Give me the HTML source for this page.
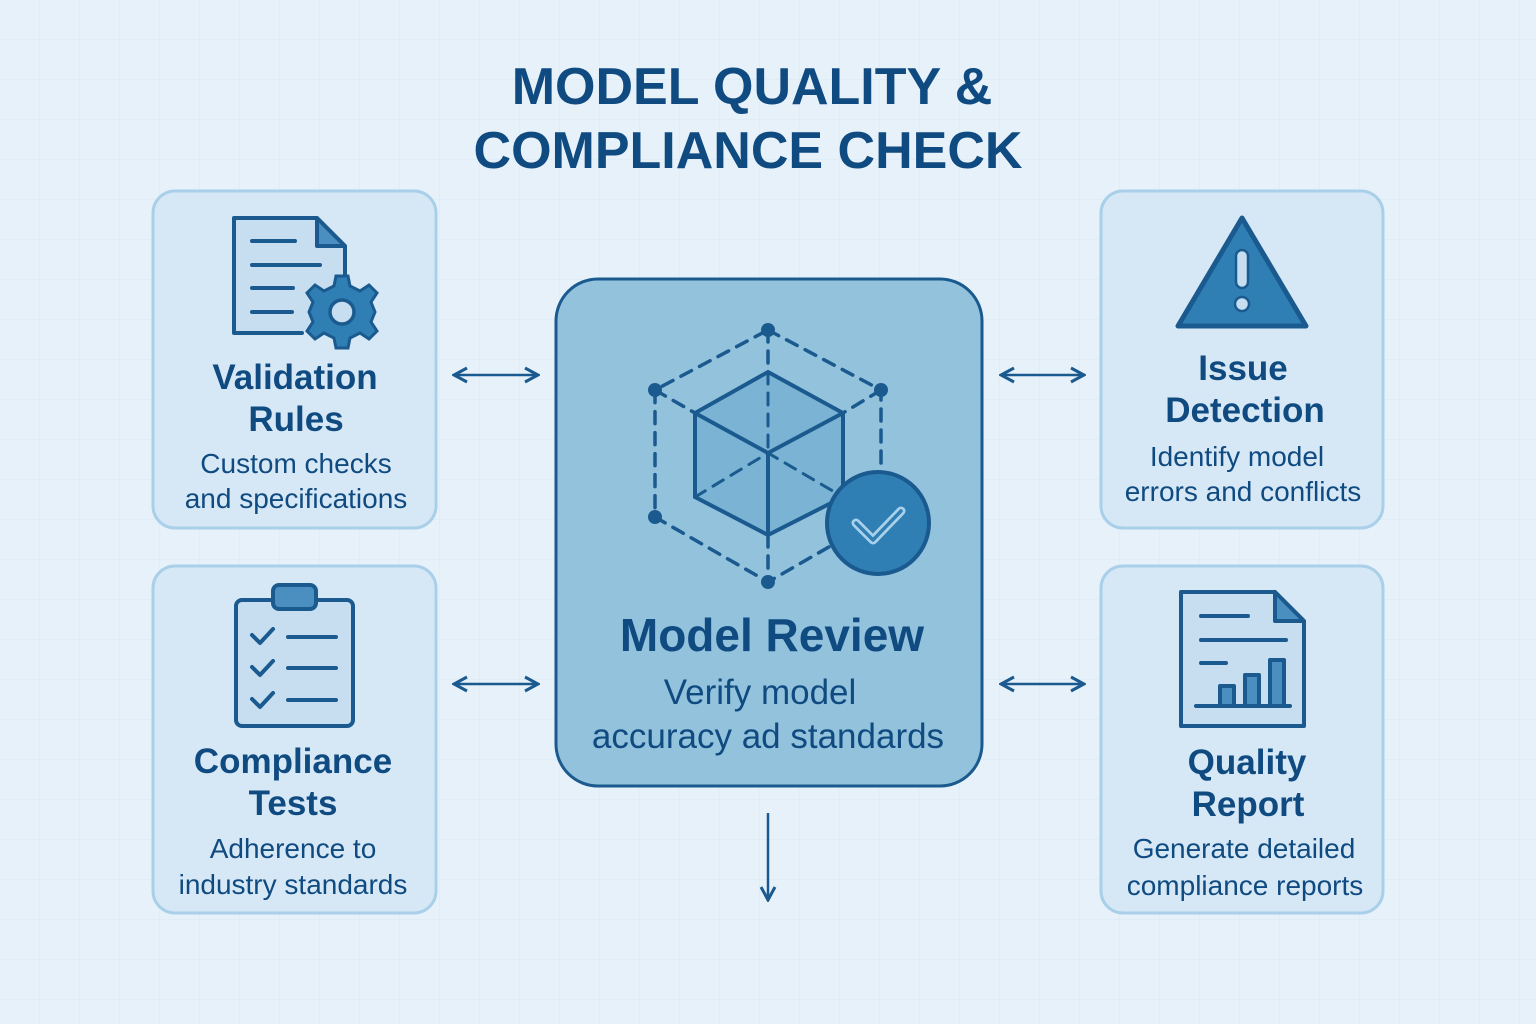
<!DOCTYPE html>
<html><head><meta charset="utf-8"><style>
html,body{margin:0;padding:0}
body{width:1536px;height:1024px;background:#e6f1fa;overflow:hidden}
svg{display:block}
text{font-family:"Liberation Sans","DejaVu Sans",sans-serif;fill:#0f4a80;text-anchor:middle}
</style></head><body>
<svg width="1536" height="1024" viewBox="0 0 1536 1024">
<defs>
<pattern id="g" width="40" height="40" patternUnits="userSpaceOnUse"><path d="M40 0V40H0" fill="none" stroke="#dbe9f4" stroke-width="1"/></pattern>
<marker id="a" viewBox="0 0 18 18" refX="16" refY="9" markerWidth="18" markerHeight="18" orient="auto-start-reverse" markerUnits="userSpaceOnUse"><path d="M3 2L16 9L3 16" fill="none" stroke="#1a5a8f" stroke-width="3"/></marker>
</defs>
<rect width="1536" height="1024" fill="#e6f1fa"/>
<rect width="1536" height="1024" fill="url(#g)"/>
<text x="752" y="104" font-size="52" font-weight="bold">MODEL QUALITY &amp;</text>
<text x="748" y="168" font-size="52" font-weight="bold">COMPLIANCE CHECK</text>

<g fill="#d6e8f5" stroke="#a9cfe9" stroke-width="3">
<rect x="153" y="191" width="283" height="337" rx="22"/>
<rect x="153" y="566" width="283" height="347" rx="22"/>
<rect x="1101" y="191" width="282" height="337" rx="22"/>
<rect x="1101" y="566" width="282" height="347" rx="22"/>
</g>
<rect x="556" y="279" width="426" height="507" rx="42" fill="#93c2dd" stroke="#1a5a8f" stroke-width="3"/>

<g stroke="#1a5a8f" stroke-width="2.5" fill="none">
<line x1="454" y1="375" x2="538" y2="375" marker-start="url(#a)" marker-end="url(#a)"/>
<line x1="454" y1="684" x2="538" y2="684" marker-start="url(#a)" marker-end="url(#a)"/>
<line x1="1001" y1="375" x2="1084" y2="375" marker-start="url(#a)" marker-end="url(#a)"/>
<line x1="1001" y1="684" x2="1084" y2="684" marker-start="url(#a)" marker-end="url(#a)"/>
<line x1="768" y1="813" x2="768" y2="900" marker-end="url(#a)"/>
</g>

<g stroke="#1a5a8f" stroke-width="4" fill="none" stroke-linecap="round">
<path d="M768 330L881 390V517L768 582L655 517V390Z" stroke-dasharray="12 9" stroke-width="3.5"/>
<path d="M768 330V372M768 535V582M655 390L695 413M881 390L843 413" stroke-dasharray="12 9" stroke-width="3.5"/>
<path d="M768 372L843 413V497L768 535L695 497V413Z" fill="#7ab3d3"/>
<path d="M695 413L768 453L843 413M768 453V535"/>
<path d="M768 372V453M695 497L768 453L843 497" stroke-dasharray="12 9" stroke-width="3"/>
</g>
<g fill="#1a5a8f"><circle cx="768" cy="330" r="7"/><circle cx="655" cy="390" r="7"/><circle cx="881" cy="390" r="7"/><circle cx="655" cy="517" r="7"/><circle cx="768" cy="582" r="7"/></g>
<circle cx="878" cy="523" r="51" fill="#2f7fb4" stroke="#1a5a8f" stroke-width="4"/>
<path d="M856 523L873 540L901 511" fill="none" stroke="#a9d2ea" stroke-width="9" stroke-linecap="round" stroke-linejoin="round"/>
<path d="M856 523L873 540L901 511" fill="none" stroke="#2f7fb4" stroke-width="3.5" stroke-linecap="round" stroke-linejoin="round"/>
<text x="772" y="651" font-size="46" font-weight="bold">Model Review</text>
<text x="760" y="704" font-size="35">Verify model</text>
<text x="768" y="748" font-size="35">accuracy ad standards</text>

<g stroke="#1a5a8f" stroke-width="4" fill="none" stroke-linecap="round" stroke-linejoin="round">
<path d="M302 333H234V218H317L345 246V290" fill="#c6def0"/>
<path d="M317 218V246H345Z" fill="#4a8fc0"/>
<path d="M252 241H295M252 265H320M252 288H293M252 312H292"/>
</g>
<g transform="translate(342,312)">
<g fill="#2f7fb4" stroke="#1a5a8f" stroke-width="3">
<path d="M-6 -36H6L8 -26L18 -21L27 -27L35 -19L29 -10L33 0L29 10L35 19L27 27L18 21L8 26L6 36H-6L-8 26L-18 21L-27 27L-35 19L-29 10L-33 0L-29 -10L-35 -19L-27 -27L-18 -21L-8 -26Z"/>
</g>
<circle r="12" fill="#c6def0" stroke="#1a5a8f" stroke-width="3.5"/>
</g>
<text x="295" y="389" font-size="35" font-weight="bold">Validation</text>
<text x="296" y="431" font-size="35" font-weight="bold">Rules</text>
<text x="296" y="473" font-size="28">Custom checks</text>
<text x="296" y="508" font-size="28">and specifications</text>

<g stroke="#1a5a8f" stroke-width="4" fill="none" stroke-linecap="round" stroke-linejoin="round">
<rect x="236" y="600" width="117" height="126" rx="6" fill="#c6def0"/>
<rect x="273" y="585" width="43" height="24" rx="6" fill="#4a8fc0"/>
<path d="M252 635L260 643L273 629M252 667L260 675L273 661M252 699L260 707L273 693"/>
<path d="M288 637H336M288 668H336M288 700H336"/>
</g>
<text x="293" y="773" font-size="35" font-weight="bold">Compliance</text>
<text x="293" y="815" font-size="35" font-weight="bold">Tests</text>
<text x="293" y="858" font-size="28">Adherence to</text>
<text x="293" y="894" font-size="28">industry standards</text>

<path d="M1242 218L1306 326H1178Z" fill="#2f7fb4" stroke="#1a5a8f" stroke-width="5" stroke-linejoin="round"/>
<rect x="1236" y="250" width="12" height="38" rx="6" fill="#c6def0" stroke="#1a5a8f" stroke-width="2.5"/>
<circle cx="1242" cy="304" r="7" fill="#c6def0" stroke="#1a5a8f" stroke-width="2.5"/>
<text x="1243" y="380" font-size="35" font-weight="bold">Issue</text>
<text x="1245" y="422" font-size="35" font-weight="bold">Detection</text>
<text x="1237" y="466" font-size="28">Identify model</text>
<text x="1243" y="501" font-size="28">errors and conflicts</text>

<g stroke="#1a5a8f" stroke-width="4" fill="none" stroke-linecap="round" stroke-linejoin="round">
<path d="M1181 592H1275L1304 621V726H1181Z" fill="#c6def0"/>
<path d="M1275 592V621H1304Z" fill="#4a8fc0"/>
<path d="M1201 616H1248M1201 640H1286M1201 663H1226M1196 706H1290"/>
<rect x="1220" y="686" width="14" height="20" fill="#4a8fc0"/>
<rect x="1245" y="675" width="14" height="31" fill="#4a8fc0"/>
<rect x="1270" y="660" width="14" height="46" fill="#4a8fc0"/>
</g>
<text x="1247" y="774" font-size="35" font-weight="bold">Quality</text>
<text x="1248" y="816" font-size="35" font-weight="bold">Report</text>
<text x="1244" y="858" font-size="28">Generate detailed</text>
<text x="1245" y="895" font-size="28">compliance reports</text>
</svg>
</body></html>
